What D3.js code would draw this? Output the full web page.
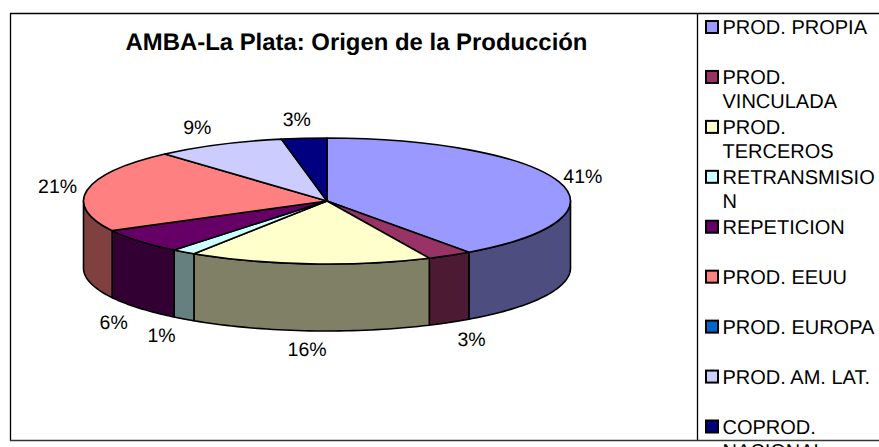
<!DOCTYPE html>
<html>
<head>
  <meta charset="utf-8">
  <title>AMBA-La Plata: Origen de la Producción</title>
  <style>
    html, body { margin: 0; padding: 0; background: #fff; overflow: hidden; }
    text { font-family: "Liberation Sans", Arial, sans-serif; fill: #000; text-rendering: geometricPrecision; }
  </style>
</head>
<body>
  <svg width="879" height="447"></svg>
  <script src="https://d3js.org/d3.v7.min.js"></script>
  <script>
  // data
  var titleText = 'AMBA-La Plata: Origen de la Producción';
  var categories = ['PROD. PROPIA', 'PROD. VINCULADA', 'PROD. TERCEROS', 'RETRANSMISION', 'REPETICION',
    'PROD. EEUU', 'PROD. EUROPA', 'PROD. AM. LAT.', 'COPROD. NACIONAL'];
  var values = [40.1, 3.0, 16.1, 1.6, 6.4, 21.2, 0, 8.6, 3.0];
  var valueLabels = ['41%', '3%', '16%', '1%', '6%', '21%', '', '9%', '3%'];
  var legendLines = [['PROD. PROPIA'], ['PROD.', 'VINCULADA'], ['PROD.', 'TERCEROS'], ['RETRANSMISIO', 'N'], ['REPETICION'],
    ['PROD. EEUU'], ['PROD. EUROPA'], ['PROD. AM. LAT.'], ['COPROD.', 'NACIONAL']];
  var colors = ['#9999ff', '#993366', '#ffffcc', '#ccffff', '#660066', '#ff8080', '#0066cc', '#ccccff', '#000080'];

  var svg = d3.select('svg');

  // 1. frame
  var frame = svg.append('g').attr('fill', 'none').attr('stroke', '#000').attr('stroke-width', 1.3);
  frame.append('path').attr('d', 'M10,13.5H879');
  frame.append('path').attr('d', 'M10.5,13.5V441M697.5,13.5V441');
  frame.append('path').attr('d', 'M10,440.5H879').attr('stroke', '#333');

  svg.append('text')
    .attr('x', 356.5).attr('y', 50)
    .attr('text-anchor', 'middle')
    .style('font-size', '23.9px').style('font-weight', 'bold')
    .text(titleText);

  // 2. pie in perspective
  var cx = 327, cy = 201, rx = 243.5, ry = 63, depth = 67;
  var slices = d3.pie().sort(null)(values);
  slices.forEach(function(d, i) { d.index = i; });

  function rim(a) { return [cx + rx * Math.sin(a), cy - ry * Math.cos(a)]; }

  // lower wall of a slice, only the part facing the viewer
  function wall(d) {
    var a0 = Math.max(d.startAngle, Math.PI / 2), a1 = Math.min(d.endAngle, Math.PI * 1.5);
    if (a1 <= a0) return null;
    var top = d3.range(0, 41).map(function(k) { return rim(a0 + (a1 - a0) * k / 40); });
    var bottom = top.slice().reverse().map(function(p) { return [p[0], p[1] + depth]; });
    return d3.line()(top.concat(bottom)) + 'Z';
  }

  var pie = svg.append('g').attr('stroke', '#000').attr('stroke-width', 1.6).attr('stroke-linejoin', 'round');

  pie.selectAll('.wall')
    .data(slices.filter(function(d) { return wall(d); }))
    .enter().append('path')
    .attr('class', 'wall')
    .attr('d', wall)
    .attr('fill', function(d) { return d3.interpolateRgb(colors[d.index], '#000')(0.5); });

  var arc = d3.arc().innerRadius(0).outerRadius(rx);
  pie.selectAll('.top')
    .data(slices.filter(function(d) { return d.value > 0; }))
    .enter().append('path')
    .attr('class', 'top')
    .attr('transform', 'translate(' + cx + ',' + cy + ') scale(1,' + (ry / rx) + ')')
    .attr('vector-effect', 'non-scaling-stroke')
    .attr('d', arc)
    .attr('fill', function(d) { return colors[d.index]; });

  // 3. value labels, placed out from each slice's middle
  svg.append('g').selectAll('text')
    .data(slices.filter(function(d) { return d.value > 0; }))
    .enter().append('text')
    .attr('text-anchor', 'middle')
    .attr('dy', '0.35em')
    .style('font-size', '19.5px')
    .attr('x', function(d) {
      var m = (d.startAngle + d.endAngle) / 2, c = Math.cos(m);
      return cx - 1 + (270 + 20 * c * c) * Math.sin(m) + (c < 0 ? 2 : -2);
    })
    .attr('y', function(d) {
      var m = (d.startAngle + d.endAngle) / 2, c = Math.cos(m), s = Math.sin(m);
      return cy - (ry + 19) * c + (c < 0 ? depth + 5 * s * s : 1) - 1;
    })
    .text(function(d) { return valueLabels[d.index]; });

  // 4. legend
  var legendY = d3.scalePoint().domain(categories).range([27, 426.5]);
  var item = svg.append('g').selectAll('g')
    .data(categories)
    .enter().append('g')
    .attr('transform', function(d) { return 'translate(705,' + legendY(d) + ')'; });

  item.append('rect')
    .attr('x', 1).attr('y', -6).attr('width', 12).attr('height', 12)
    .attr('fill', function(d, i) { return colors[i]; })
    .attr('stroke', '#000').attr('stroke-width', 2);

  item.each(function(d, i) {
    d3.select(this).selectAll('text')
      .data(legendLines[i])
      .enter().append('text')
      .attr('x', 17.5)
      .attr('y', function(t, k) { return k * 24; })
      .attr('dy', '0.35em')
      .style('font-size', '20px')
      .text(function(t) { return t; });
  });
  </script>
</body>
</html>
